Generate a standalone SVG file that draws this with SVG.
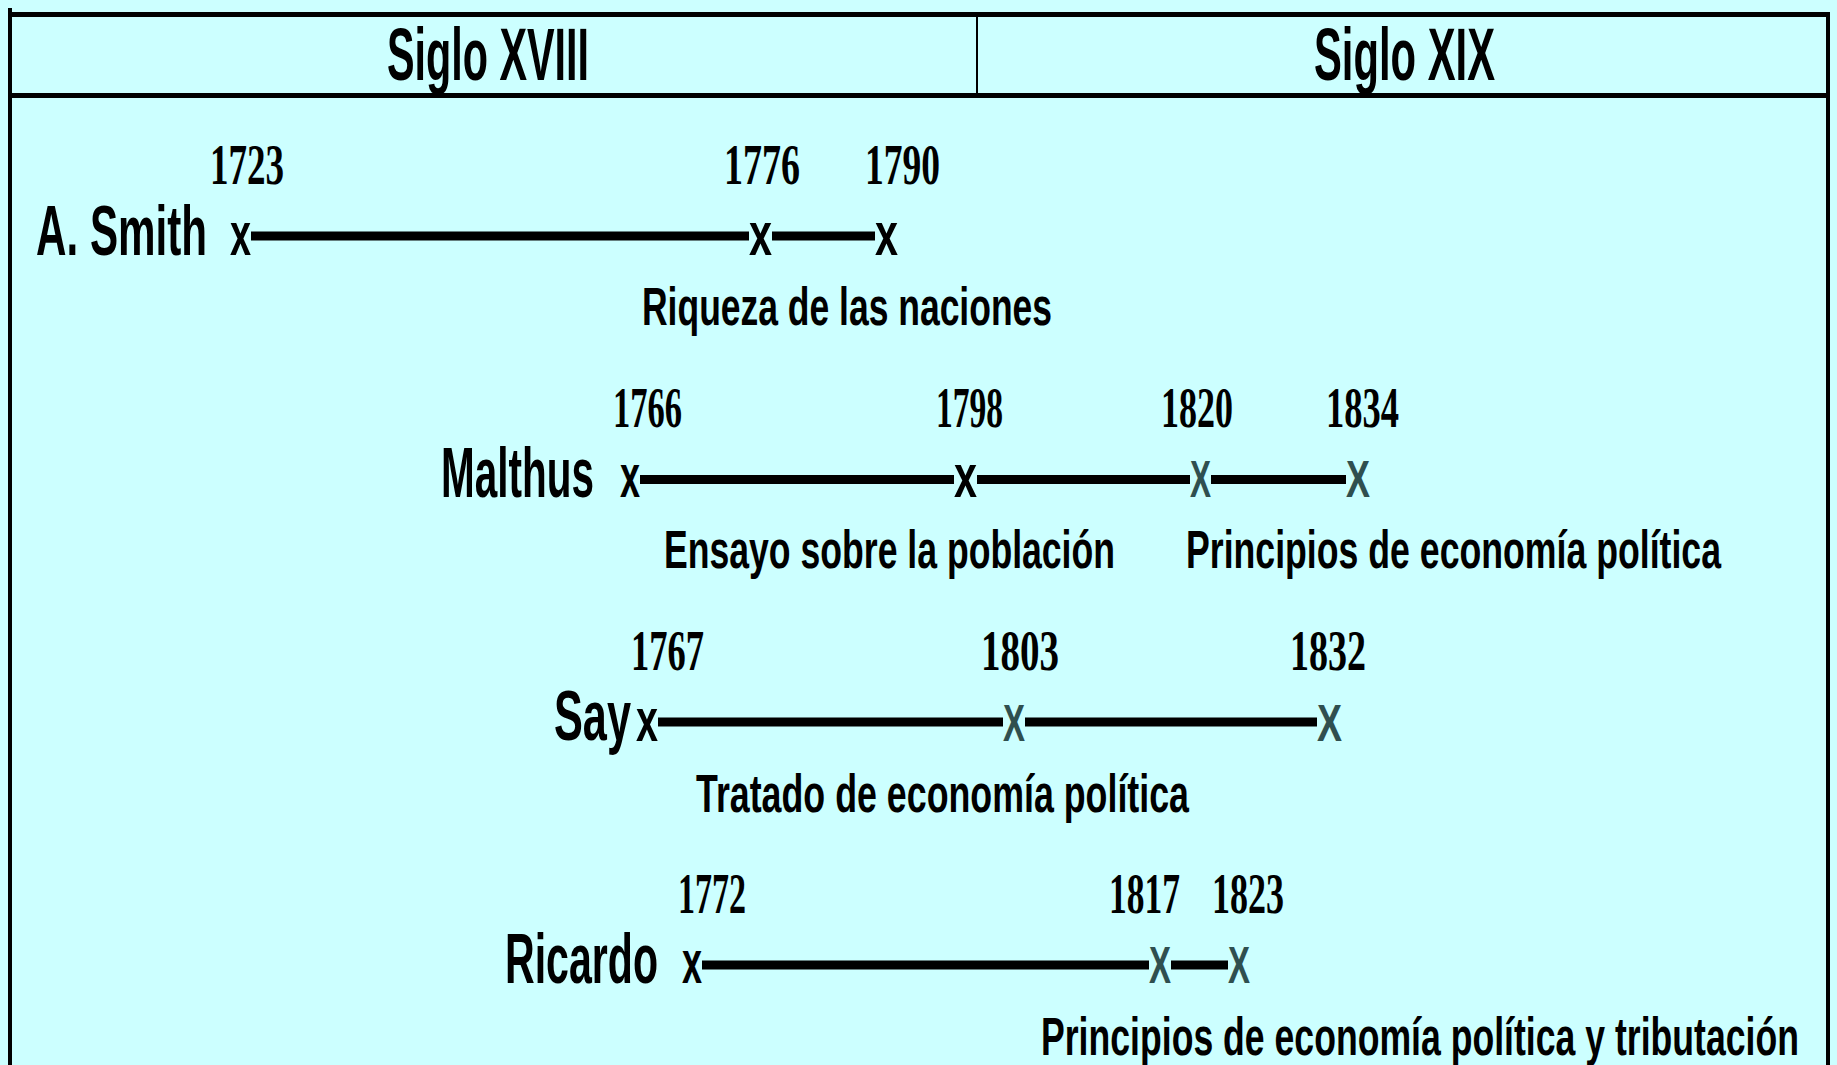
<svg xmlns="http://www.w3.org/2000/svg" width="1837" height="1065" viewBox="0 0 1837 1065">
<style>
.hd{font-family:"Liberation Sans",Arial,sans-serif;font-weight:bold;font-size:74px;fill:#000}
.nm{font-family:"Liberation Sans",Arial,sans-serif;font-weight:bold;font-size:70px;fill:#000}
.wk{font-family:"Liberation Sans",Arial,sans-serif;font-weight:bold;font-size:54px;fill:#000}
.yr{font-family:"Liberation Serif","Times New Roman",serif;font-weight:bold;font-size:56px;fill:#000}
.mk{font-family:"Liberation Sans",Arial,sans-serif;font-weight:bold;font-size:62px;fill:#000}
.mg{font-family:"Liberation Sans",Arial,sans-serif;font-weight:bold;font-size:52px;fill:#2f4f4f}
.ln{stroke:#000;stroke-width:9;fill:none}
.fr{fill:#000}
</style>
<rect x="0" y="0" width="1837" height="1065" fill="#CCFFFF"/>
<g id="frame">
<rect class="fr" x="8" y="8" width="4" height="1057"/>
<rect class="fr" x="1826" y="12" width="4" height="1053"/>
<rect class="fr" x="8" y="12" width="1822" height="5"/>
<rect class="fr" x="8" y="93" width="1822" height="5"/>
<rect class="fr" x="976" y="17" width="2" height="76"/>
</g>
<g id="header">
<text class="hd" x="387" y="80" textLength="202" lengthAdjust="spacingAndGlyphs">Siglo XVIII</text>
<text class="hd" x="1314" y="80" textLength="181" lengthAdjust="spacingAndGlyphs">Siglo XIX</text>
</g>
<g id="connectors">
<line class="ln" x1="251" y1="236" x2="749" y2="236"/>
<line class="ln" x1="772" y1="236" x2="875" y2="236"/>
<line class="ln" x1="640" y1="479.5" x2="954" y2="479.5"/>
<line class="ln" x1="977" y1="479.5" x2="1190" y2="479.5"/>
<line class="ln" x1="1211" y1="479.5" x2="1346" y2="479.5"/>
<line class="ln" x1="658" y1="722" x2="1003" y2="722"/>
<line class="ln" x1="1025" y1="722" x2="1317" y2="722"/>
<line class="ln" x1="702" y1="965" x2="1149" y2="965"/>
<line class="ln" x1="1171" y1="965" x2="1228" y2="965"/>
</g>
<g id="smith">
<text class="nm" x="36" y="255" textLength="171" lengthAdjust="spacingAndGlyphs">A. Smith</text>
<text class="yr" x="210" y="184" textLength="74" lengthAdjust="spacingAndGlyphs">1723</text>
<text class="yr" x="724" y="184" textLength="76" lengthAdjust="spacingAndGlyphs">1776</text>
<text class="yr" x="865" y="184" textLength="75" lengthAdjust="spacingAndGlyphs">1790</text>
<text class="mk" x="230" y="255" textLength="21" lengthAdjust="spacingAndGlyphs">x</text>
<text class="mk" x="749" y="255" textLength="23" lengthAdjust="spacingAndGlyphs">x</text>
<text class="mk" x="875" y="255" textLength="23" lengthAdjust="spacingAndGlyphs">x</text>
<text class="wk" x="642" y="325" textLength="410" lengthAdjust="spacingAndGlyphs">Riqueza de las naciones</text>
</g>
<g id="malthus">
<text class="nm" x="441" y="497" textLength="153" lengthAdjust="spacingAndGlyphs">Malthus</text>
<text class="yr" x="613" y="427" textLength="69" lengthAdjust="spacingAndGlyphs">1766</text>
<text class="yr" x="936" y="427" textLength="67" lengthAdjust="spacingAndGlyphs">1798</text>
<text class="yr" x="1161" y="427" textLength="72" lengthAdjust="spacingAndGlyphs">1820</text>
<text class="yr" x="1326" y="427" textLength="73" lengthAdjust="spacingAndGlyphs">1834</text>
<text class="mk" x="620" y="497" textLength="20" lengthAdjust="spacingAndGlyphs">x</text>
<text class="mk" x="954" y="497" textLength="23" lengthAdjust="spacingAndGlyphs">x</text>
<text class="mg" x="1190" y="497" textLength="21" lengthAdjust="spacingAndGlyphs">X</text>
<text class="mg" x="1346" y="497" textLength="24" lengthAdjust="spacingAndGlyphs">X</text>
<text class="wk" x="664" y="568" textLength="451" lengthAdjust="spacingAndGlyphs">Ensayo sobre la población</text>
<text class="wk" x="1186" y="568" textLength="535" lengthAdjust="spacingAndGlyphs">Principios de economía política</text>
</g>
<g id="say">
<text class="nm" x="554" y="740" textLength="77" lengthAdjust="spacingAndGlyphs">Say</text>
<text class="yr" x="631" y="670" textLength="73" lengthAdjust="spacingAndGlyphs">1767</text>
<text class="yr" x="981" y="670" textLength="78" lengthAdjust="spacingAndGlyphs">1803</text>
<text class="yr" x="1290" y="670" textLength="76" lengthAdjust="spacingAndGlyphs">1832</text>
<text class="mk" x="636" y="741" textLength="22" lengthAdjust="spacingAndGlyphs">x</text>
<text class="mg" x="1003" y="741" textLength="22" lengthAdjust="spacingAndGlyphs">X</text>
<text class="mg" x="1317" y="741" textLength="25" lengthAdjust="spacingAndGlyphs">X</text>
<text class="wk" x="696" y="812" textLength="493" lengthAdjust="spacingAndGlyphs">Tratado de economía política</text>
</g>
<g id="ricardo">
<text class="nm" x="505" y="983" textLength="153" lengthAdjust="spacingAndGlyphs">Ricardo</text>
<text class="yr" x="678" y="913" textLength="68" lengthAdjust="spacingAndGlyphs">1772</text>
<text class="yr" x="1109" y="913" textLength="71" lengthAdjust="spacingAndGlyphs">1817</text>
<text class="yr" x="1212" y="913" textLength="72" lengthAdjust="spacingAndGlyphs">1823</text>
<text class="mk" x="682" y="983" textLength="20" lengthAdjust="spacingAndGlyphs">x</text>
<text class="mg" x="1149" y="983" textLength="22" lengthAdjust="spacingAndGlyphs">X</text>
<text class="mg" x="1228" y="983" textLength="22" lengthAdjust="spacingAndGlyphs">X</text>
<text class="wk" x="1041" y="1055" textLength="758" lengthAdjust="spacingAndGlyphs">Principios de economía política y tributación</text>
</g>
</svg>
